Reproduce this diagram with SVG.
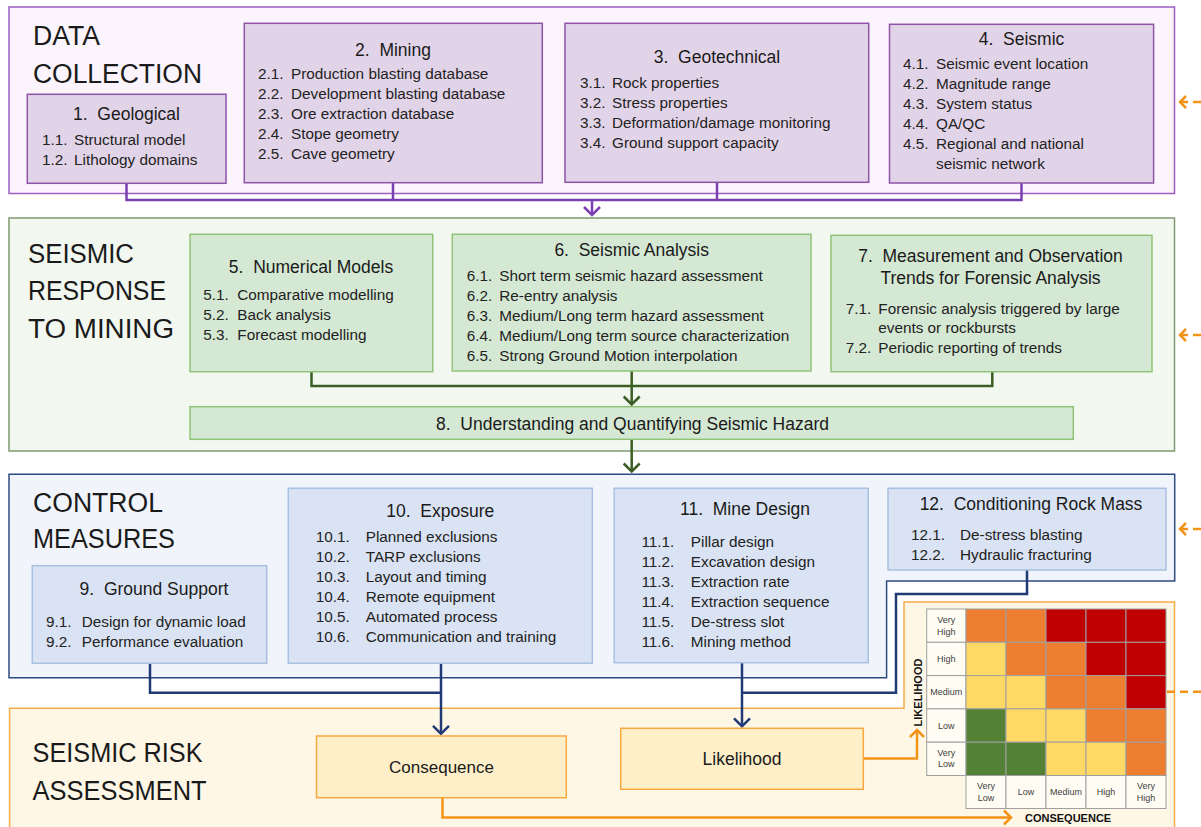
<svg xmlns="http://www.w3.org/2000/svg" width="1201" height="827" viewBox="0 0 1201 827">
<defs>
<style>
text{font-family:"Liberation Sans",Arial,sans-serif;fill:#1a1a1a}
.sec{font-size:27px}
.ttl{font-size:17.5px;text-anchor:middle}
.it{font-size:15.3px;fill:#222}
.pbox{fill:#e2d4e8;stroke:#8e52a8;stroke-width:1.5}
.gbox{fill:#d5e8d4;stroke:#8fc377;stroke-width:1.5}
.bbox{fill:#dae3f3;stroke:#a8c0e2;stroke-width:1.5}
.obox{fill:#ffefc9;stroke:#f7a83e;stroke-width:1.5}
.pc{fill:none;stroke:#7a3fb0;stroke-width:2.5}
.gc{fill:none;stroke:#3b5e25;stroke-width:2.5}
.bc{fill:none;stroke:#1f3a75;stroke-width:2.5}
.oc{fill:none;stroke:#f39418;stroke-width:2.5}
.dash{fill:none;stroke:#f39418;stroke-width:2.5;stroke-dasharray:8 5}
.ml{font-size:9px;fill:#404040;text-anchor:middle}
.ax{font-size:11px;font-weight:bold;fill:#111}
.cell{stroke:#a0a0a0;stroke-width:1}
.O{fill:#ed7d31}.R{fill:#c00000}.Y{fill:#ffd966}.G{fill:#538135}.L{fill:#fffcf3}
</style>
<marker id="mp" viewBox="-10 -10 20 20" refX="0" refY="0" markerWidth="20" markerHeight="20" markerUnits="userSpaceOnUse" orient="auto"><path d="M-8,-8 L0,0 L-8,8" fill="none" stroke="#7a3fb0" stroke-width="2.5"/></marker>
<marker id="mg" viewBox="-10 -10 20 20" refX="0" refY="0" markerWidth="20" markerHeight="20" markerUnits="userSpaceOnUse" orient="auto"><path d="M-8,-8 L0,0 L-8,8" fill="none" stroke="#3b5e25" stroke-width="2.5"/></marker>
<marker id="mb" viewBox="-10 -10 20 20" refX="0" refY="0" markerWidth="20" markerHeight="20" markerUnits="userSpaceOnUse" orient="auto"><path d="M-8,-8 L0,0 L-8,8" fill="none" stroke="#1f3a75" stroke-width="2.5"/></marker>
<marker id="mo" viewBox="-10 -10 20 20" refX="0" refY="0" markerWidth="20" markerHeight="20" markerUnits="userSpaceOnUse" orient="auto"><path d="M-7,-7 L0,0 L-7,7" fill="none" stroke="#f39418" stroke-width="2.5"/></marker>
<marker id="md" viewBox="-10 -10 20 20" refX="0" refY="0" markerWidth="20" markerHeight="20" markerUnits="userSpaceOnUse" orient="auto"><path d="M-6,-6 L0,0 L-6,6" fill="none" stroke="#f39418" stroke-width="2.5" stroke-dasharray="none"/></marker>
</defs>

<!-- section backgrounds -->
<g id="sec-data">
<rect x="9" y="7" width="1165.5" height="186.5" fill="#fbf4fd" stroke="#9b5fc0" stroke-width="1.5"/>
<text class="sec" x="33" y="45" textLength="67" lengthAdjust="spacingAndGlyphs">DATA</text>
<text class="sec" x="33" y="83" textLength="169" lengthAdjust="spacingAndGlyphs">COLLECTION</text>
</g>
<g id="sec-response">
<rect x="9" y="218" width="1165.5" height="233" fill="#f2f8f0" stroke="#7f9a72" stroke-width="1.5"/>
<text class="sec" x="28" y="262.7" textLength="106" lengthAdjust="spacingAndGlyphs">SEISMIC</text>
<text class="sec" x="28" y="300" textLength="138" lengthAdjust="spacingAndGlyphs">RESPONSE</text>
<text class="sec" x="28" y="337.7" textLength="146" lengthAdjust="spacingAndGlyphs">TO MINING</text>
</g>
<g id="sec-control">
<polygon points="9,474.3 1174.7,474.3 1174.7,581 886.6,581 886.6,677.7 9,677.7" fill="#f1f5fb" stroke="#2f4a82" stroke-width="1.5"/>
<text class="sec" x="33" y="511.7" textLength="130" lengthAdjust="spacingAndGlyphs">CONTROL</text>
<text class="sec" x="33" y="548.3" textLength="142" lengthAdjust="spacingAndGlyphs">MEASURES</text>
</g>
<g id="sec-risk">
<polygon points="9.6,708.3 904,708.3 904,602 1174.5,602 1174.5,840 9.6,840" fill="#fef7e6" stroke="#f7ab4a" stroke-width="1.5"/>
<text class="sec" x="32.6" y="761.7" textLength="170" lengthAdjust="spacingAndGlyphs">SEISMIC RISK</text>
<text class="sec" x="32.6" y="800" textLength="174" lengthAdjust="spacingAndGlyphs">ASSESSMENT</text>
</g>

<!-- connectors -->
<g id="connectors">
<path class="pc" d="M126.5,183.3V200H1021.5V183"/>
<path class="pc" d="M393,182.7V200M717,182.3V200"/>
<path class="pc" d="M592,200V215" marker-end="url(#mp)"/>
<path class="gc" d="M311.5,371.7V386H992.3V371.7"/>
<path class="gc" d="M631.7,371V404.5" marker-end="url(#mg)"/>
<path class="gc" d="M631.7,439.3V471.5" marker-end="url(#mg)"/>
<path class="bc" d="M150,663.3V692.7H441"/>
<path class="bc" d="M441,663.3V733.8" marker-end="url(#mb)"/>
<path class="bc" d="M1027,570V594H896V692.7H742"/>
<path class="bc" d="M742,662.7V726.3" marker-end="url(#mb)"/>
<path class="oc" d="M442.5,797.7V817.5H1011" marker-end="url(#mo)"/>
<path class="oc" d="M863.3,758.5H917V730" marker-end="url(#mo)"/>
<path class="dash" d="M1201,102H1180" marker-end="url(#md)"/>
<path class="dash" d="M1201,335H1180" marker-end="url(#md)"/>
<path class="dash" d="M1201,529H1180" marker-end="url(#md)"/>
<path class="dash" d="M1167,691.7H1201"/>
</g>

<!-- Data collection nodes -->
<g id="n1">
<rect class="pbox" x="27.3" y="94.3" width="198.7" height="89"/>
<text class="ttl" x="126.5" y="120">1.&#160; Geological</text>
<text class="it" x="42" y="145">1.1.</text><text class="it" x="74" y="145">Structural model</text>
<text class="it" x="42" y="165">1.2.</text><text class="it" x="74" y="165">Lithology domains</text>
</g>
<g id="n2">
<rect class="pbox" x="244.3" y="23.3" width="298" height="159.4"/>
<text class="ttl" x="393" y="56">2.&#160; Mining</text>
<text class="it" x="258" y="79">2.1.</text><text class="it" x="291" y="79">Production blasting database</text>
<text class="it" x="258" y="99">2.2.</text><text class="it" x="291" y="99">Development blasting database</text>
<text class="it" x="258" y="119">2.3.</text><text class="it" x="291" y="119">Ore extraction database</text>
<text class="it" x="258" y="139">2.4.</text><text class="it" x="291" y="139">Stope geometry</text>
<text class="it" x="258" y="159">2.5.</text><text class="it" x="291" y="159">Cave geometry</text>
</g>
<g id="n3">
<rect class="pbox" x="565" y="23.3" width="303.7" height="159"/>
<text class="ttl" x="717" y="63.3">3.&#160; Geotechnical</text>
<text class="it" x="580" y="88.3">3.1.</text><text class="it" x="612" y="88.3">Rock properties</text>
<text class="it" x="580" y="108.3">3.2.</text><text class="it" x="612" y="108.3">Stress properties</text>
<text class="it" x="580" y="128.3">3.3.</text><text class="it" x="612" y="128.3">Deformation/damage monitoring</text>
<text class="it" x="580" y="148.3">3.4.</text><text class="it" x="612" y="148.3">Ground support capacity</text>
</g>
<g id="n4">
<rect class="pbox" x="889.5" y="24.3" width="264.1" height="158.7"/>
<text class="ttl" x="1021.5" y="45">4.&#160; Seismic</text>
<text class="it" x="903" y="69.3">4.1.</text><text class="it" x="936" y="69.3">Seismic event location</text>
<text class="it" x="903" y="89.3">4.2.</text><text class="it" x="936" y="89.3">Magnitude range</text>
<text class="it" x="903" y="109.3">4.3.</text><text class="it" x="936" y="109.3">System status</text>
<text class="it" x="903" y="129.3">4.4.</text><text class="it" x="936" y="129.3">QA/QC</text>
<text class="it" x="903" y="149.3">4.5.</text><text class="it" x="936" y="149.3">Regional and national</text>
<text class="it" x="936" y="169.3">seismic network</text>
</g>

<!-- Seismic response nodes -->
<g id="n5">
<rect class="gbox" x="190" y="234.3" width="242.7" height="137.4"/>
<text class="ttl" x="311" y="273.3">5.&#160; Numerical Models</text>
<text class="it" x="203.3" y="300">5.1.</text><text class="it" x="237.3" y="300">Comparative modelling</text>
<text class="it" x="203.3" y="320">5.2.</text><text class="it" x="237.3" y="320">Back analysis</text>
<text class="it" x="203.3" y="340">5.3.</text><text class="it" x="237.3" y="340">Forecast modelling</text>
</g>
<g id="n6">
<rect class="gbox" x="452.3" y="234.3" width="358.7" height="136.7"/>
<text class="ttl" x="631.7" y="256">6.&#160; Seismic Analysis</text>
<text class="it" x="466.7" y="280.7">6.1.</text><text class="it" x="499.3" y="280.7">Short term seismic hazard assessment</text>
<text class="it" x="466.7" y="300.7">6.2.</text><text class="it" x="499.3" y="300.7">Re-entry analysis</text>
<text class="it" x="466.7" y="320.7">6.3.</text><text class="it" x="499.3" y="320.7">Medium/Long term hazard assessment</text>
<text class="it" x="466.7" y="340.7">6.4.</text><text class="it" x="499.3" y="340.7">Medium/Long term source characterization</text>
<text class="it" x="466.7" y="360.7">6.5.</text><text class="it" x="499.3" y="360.7">Strong Ground Motion interpolation</text>
</g>
<g id="n7">
<rect class="gbox" x="831" y="235.3" width="321" height="136.4"/>
<text class="ttl" x="990.5" y="261.7">7.&#160; Measurement and Observation</text>
<text class="ttl" x="990.5" y="284.3">Trends for Forensic Analysis</text>
<text class="it" x="845.7" y="314">7.1.</text><text class="it" x="878.3" y="314">Forensic analysis triggered by large</text>
<text class="it" x="878.3" y="333.3">events or rockbursts</text>
<text class="it" x="845.7" y="353.3">7.2.</text><text class="it" x="878.3" y="353.3">Periodic reporting of trends</text>
</g>
<g id="n8">
<rect class="gbox" x="190" y="406.7" width="883.3" height="32.6"/>
<text class="ttl" x="632.5" y="430">8.&#160; Understanding and Quantifying Seismic Hazard</text>
</g>

<!-- Control measures nodes -->
<g id="n9">
<rect class="bbox" x="32.3" y="565.7" width="234.4" height="97.6"/>
<text class="ttl" x="154" y="595">9.&#160; Ground Support</text>
<text class="it" x="46" y="626.7">9.1.</text><text class="it" x="81.7" y="626.7">Design for dynamic load</text>
<text class="it" x="46" y="646.7">9.2.</text><text class="it" x="81.7" y="646.7">Performance evaluation</text>
</g>
<g id="n10">
<rect class="bbox" x="288.3" y="488.3" width="304" height="175"/>
<text class="ttl" x="440.3" y="516.7">10.&#160; Exposure</text>
<text class="it" x="315.7" y="541.7">10.1.</text><text class="it" x="365.7" y="541.7">Planned exclusions</text>
<text class="it" x="315.7" y="561.7">10.2.</text><text class="it" x="365.7" y="561.7">TARP exclusions</text>
<text class="it" x="315.7" y="581.7">10.3.</text><text class="it" x="365.7" y="581.7">Layout and timing</text>
<text class="it" x="315.7" y="601.7">10.4.</text><text class="it" x="365.7" y="601.7">Remote equipment</text>
<text class="it" x="315.7" y="621.7">10.5.</text><text class="it" x="365.7" y="621.7">Automated process</text>
<text class="it" x="315.7" y="641.7">10.6.</text><text class="it" x="365.7" y="641.7">Communication and training</text>
</g>
<g id="n11">
<rect class="bbox" x="614.2" y="488.3" width="254" height="174.4"/>
<text class="ttl" x="745" y="515">11.&#160; Mine Design</text>
<text class="it" x="641.4" y="547.3">11.1.</text><text class="it" x="690.8" y="547.3">Pillar design</text>
<text class="it" x="641.4" y="567.3">11.2.</text><text class="it" x="690.8" y="567.3">Excavation design</text>
<text class="it" x="641.4" y="587.3">11.3.</text><text class="it" x="690.8" y="587.3">Extraction rate</text>
<text class="it" x="641.4" y="607.3">11.4.</text><text class="it" x="690.8" y="607.3">Extraction sequence</text>
<text class="it" x="641.4" y="627.3">11.5.</text><text class="it" x="690.8" y="627.3">De-stress slot</text>
<text class="it" x="641.4" y="647.3">11.6.</text><text class="it" x="690.8" y="647.3">Mining method</text>
</g>
<g id="n12">
<rect class="bbox" x="888" y="488.3" width="278" height="81.7"/>
<text class="ttl" x="1031" y="510">12.&#160; Conditioning Rock Mass</text>
<text class="it" x="911" y="540">12.1.</text><text class="it" x="960" y="540">De-stress blasting</text>
<text class="it" x="911" y="560">12.2.</text><text class="it" x="960" y="560">Hydraulic fracturing</text>
</g>

<!-- Risk assessment nodes -->
<g id="n-consequence">
<rect class="obox" x="316.5" y="736" width="249.8" height="61.7"/>
<text class="ttl" x="441.5" y="772.7" style="font-size:17px">Consequence</text>
</g>
<g id="n-likelihood">
<rect class="obox" x="620.7" y="728.3" width="242.6" height="61"/>
<text class="ttl" x="742" y="765" style="font-size:17.5px">Likelihood</text>
</g>

<!-- Risk matrix -->
<g id="risk-matrix">
<g class="cell">
<rect class="L" x="926.7" y="609" width="39.3" height="33.3"/>
<rect class="O" x="966" y="609" width="40" height="33.3"/><rect class="O" x="1006" y="609" width="40" height="33.3"/><rect class="R" x="1046" y="609" width="40" height="33.3"/><rect class="R" x="1086" y="609" width="40" height="33.3"/><rect class="R" x="1126" y="609" width="40" height="33.3"/>
<rect class="L" x="926.7" y="642.3" width="39.3" height="33.3"/>
<rect class="Y" x="966" y="642.3" width="40" height="33.3"/><rect class="O" x="1006" y="642.3" width="40" height="33.3"/><rect class="O" x="1046" y="642.3" width="40" height="33.3"/><rect class="R" x="1086" y="642.3" width="40" height="33.3"/><rect class="R" x="1126" y="642.3" width="40" height="33.3"/>
<rect class="L" x="926.7" y="675.6" width="39.3" height="33.3"/>
<rect class="Y" x="966" y="675.6" width="40" height="33.3"/><rect class="Y" x="1006" y="675.6" width="40" height="33.3"/><rect class="O" x="1046" y="675.6" width="40" height="33.3"/><rect class="O" x="1086" y="675.6" width="40" height="33.3"/><rect class="R" x="1126" y="675.6" width="40" height="33.3"/>
<rect class="L" x="926.7" y="708.9" width="39.3" height="33.3"/>
<rect class="G" x="966" y="708.9" width="40" height="33.3"/><rect class="Y" x="1006" y="708.9" width="40" height="33.3"/><rect class="Y" x="1046" y="708.9" width="40" height="33.3"/><rect class="O" x="1086" y="708.9" width="40" height="33.3"/><rect class="O" x="1126" y="708.9" width="40" height="33.3"/>
<rect class="L" x="926.7" y="742.2" width="39.3" height="33.3"/>
<rect class="G" x="966" y="742.2" width="40" height="33.3"/><rect class="G" x="1006" y="742.2" width="40" height="33.3"/><rect class="Y" x="1046" y="742.2" width="40" height="33.3"/><rect class="Y" x="1086" y="742.2" width="40" height="33.3"/><rect class="O" x="1126" y="742.2" width="40" height="33.3"/>
<rect class="L" x="966" y="775.5" width="40" height="33"/><rect class="L" x="1006" y="775.5" width="40" height="33"/><rect class="L" x="1046" y="775.5" width="40" height="33"/><rect class="L" x="1086" y="775.5" width="40" height="33"/><rect class="L" x="1126" y="775.5" width="40" height="33"/>
</g>
<text class="ml" x="946.3" y="623">Very</text><text class="ml" x="946.3" y="634.5">High</text>
<text class="ml" x="946.3" y="662">High</text>
<text class="ml" x="946.3" y="695.3">Medium</text>
<text class="ml" x="946.3" y="728.6">Low</text>
<text class="ml" x="946.3" y="755.5">Very</text><text class="ml" x="946.3" y="767">Low</text>
<text class="ml" x="986" y="789">Very</text><text class="ml" x="986" y="800.5">Low</text>
<text class="ml" x="1026" y="795">Low</text>
<text class="ml" x="1066" y="795">Medium</text>
<text class="ml" x="1106" y="795">High</text>
<text class="ml" x="1146" y="789">Very</text><text class="ml" x="1146" y="800.5">High</text>
<text class="ax" transform="translate(921.5,692.5) rotate(-90)" text-anchor="middle">LIKELIHOOD</text>
<text class="ax" x="1025" y="821.7">CONSEQUENCE</text>
</g>
</svg>
